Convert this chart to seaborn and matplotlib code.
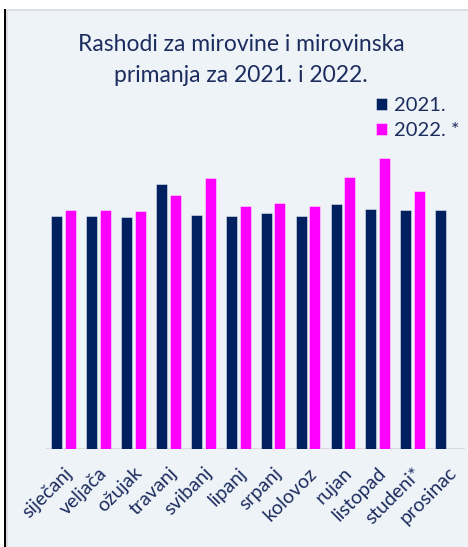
import numpy as np
import pandas as pd
import matplotlib
matplotlib.use("Agg")
import matplotlib.pyplot as plt
import matplotlib.transforms as mtransforms
from matplotlib.patches import Rectangle
import seaborn as sns

months = ["siječanj", "veljača", "ožujak", "travanj", "svibanj", "lipanj",
          "srpanj", "kolovoz", "rujan", "listopad", "studeni*", "prosinac"]
values_2021 = [3495, 3500, 3490, 3975, 3510, 3500, 3540, 3500, 3675, 3600, 3595, 3585]
values_2022 = [3590, 3590, 3575, 3815, 4070, 3650, 3695, 3650, 4090, 4365, 3880, np.nan]
series_labels = ["2021.", "2022. *"]
title_lines = ["Rashodi za mirovine i mirovinska", "primanja za 2021. i 2022."]

df = pd.DataFrame({
    "mjesec": months * 2,
    "godina": [series_labels[0]] * 12 + [series_labels[1]] * 12,
    "iznos": values_2021 + values_2022,
})

sns.set_theme(style="white")
plt.rcParams["font.family"] = ["Lato", "DejaVu Sans"]

W, H = 468, 547
fig = plt.figure(figsize=(W / 100, H / 100), dpi=100)
fig.patch.set_facecolor("white")

BG = "#eef3f8"
TXT = "#1c2c5e"

# panel background + borders
fig.add_artist(Rectangle((7 / W, -0.05), (W - 7) / W + 0.1, (H - 10) / H + 0.05, transform=fig.transFigure,
                         facecolor=BG, edgecolor="#d6d9dd", linewidth=1.2, zorder=0))
fig.add_artist(Rectangle((3.5 / W, 0), 2.5 / W, (H - 9) / H, transform=fig.transFigure,
                         facecolor="black", edgecolor="none", zorder=1))

ax_left, ax_right = 46.3, 465
ax_bottom, ax_top = 449.3, 150
ax = fig.add_axes([ax_left / W, (H - ax_bottom) / H, (ax_right - ax_left) / W, (ax_bottom - ax_top) / H])
ax.set_facecolor("none")

palette = {series_labels[0]: "#002060", series_labels[1]: "#ff00ff"}
sns.barplot(data=df, x="mjesec", y="iznos", hue="godina", palette=palette, ax=ax,
            width=0.785, gap=0.2, edgecolor=(1, 1, 1, 0.45), linewidth=0.7,
            saturation=1, legend=True, order=months)

ax.set_ylim(0, (ax_bottom - ax_top) * 15)
ax.set_xlim(-0.5, 11.5)
for s in ax.spines.values():
    s.set_visible(False)
ax.axhline(0, color="#d9d9d9", lw=2.2, zorder=0)
ax.set_yticks([])
ax.set_xlabel("")
ax.set_ylabel("")
ax.tick_params(axis="x", length=0, pad=0)
ax.set_xticks(range(len(months)))
ax.set_xticklabels(months, rotation=45, ha="right", va="center", rotation_mode="anchor",
                   fontsize=14, color=TXT)
offset = mtransforms.ScaledTranslation(6 / 100, -21 / 100, fig.dpi_scale_trans)
for lbl in ax.get_xticklabels():
    lbl.set_transform(lbl.get_transform() + offset)

# legend
handles, labels = ax.get_legend_handles_labels()
ax.get_legend().remove()
fig.legend(handles, labels, loc="upper left", bbox_to_anchor=(376 / W, 1 - 97 / H),
           frameon=False, fontsize=14.5, labelcolor=TXT, handlelength=0.55, handleheight=0.55,
           handletextpad=0.35, labelspacing=0.4, borderpad=0, borderaxespad=0)

fig.text(241 / W, 1 - 50.7 / H, title_lines[0], ha="center", va="baseline", fontsize=16.5, color=TXT)
fig.text(241 / W, 1 - 81.5 / H, title_lines[1], ha="center", va="baseline", fontsize=16.5, color=TXT)

fig.savefig("out.png", dpi=100, facecolor=fig.get_facecolor())
